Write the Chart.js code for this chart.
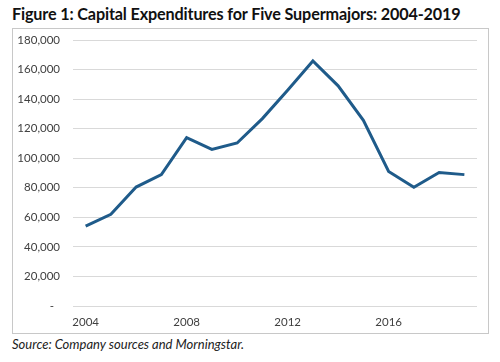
<!DOCTYPE html>
<html>
<head>
<meta charset="utf-8">
<script src="https://cdn.jsdelivr.net/npm/chart.js@4/dist/chart.umd.min.js"></script>
<style>
  html, body { margin: 0; padding: 0; background: #fff; }
  body { width: 500px; height: 362px; position: relative; overflow: hidden; font-family: Lato, "Open Sans", sans-serif; }
  #title { position: absolute; left: 12px; top: 4px; font-size: 16.2px; letter-spacing: -0.15px; font-weight: bold; color: #111; white-space: nowrap; }
  #chart-canvas { position: absolute; left: 12px; top: 28px; display: block; }
  #source { position: absolute; left: 12px; top: 336px; font-size: 13px; font-style: italic; color: #222; white-space: nowrap; }
</style>
</head>
<body>
<div id="title">Figure 1: Capital Expenditures for Five Supermajors: 2004-2019</div>
<canvas id="chart-canvas" width="477" height="306"></canvas>
<div id="source">Source: Company sources and Morningstar.</div>
<script>
// values (millions)
const years = ['2004', '2005', '2006', '2007', '2008', '2009', '2010', '2011',
               '2012', '2013', '2014', '2015', '2016', '2017', '2018', '2019'];
const capex = [54000, 62000, 80500, 89000, 114000, 106000, 110300, 126800,
               146000, 165800, 149000, 125600, 91000, 80300, 90300, 88900];
const yTicks = [0, 20000, 40000, 60000, 80000, 100000, 120000, 140000, 160000, 180000];

// light frame round the whole chart, like the spreadsheet chart box
const frame = {
    id: 'frame',
    beforeDraw(chart) {
        const ctx = chart.ctx;
        ctx.save();
        ctx.strokeStyle = '#c8c8c8';
        ctx.lineWidth = 1;
        ctx.strokeRect(0.5, 0.5, chart.width - 1, chart.height - 1);
        ctx.restore();
    }
};

const canvas = document.getElementById('chart-canvas');
new Chart(canvas, {
    type: 'line',
    data: {
        labels: years,
        datasets: [{
            data: capex,
            borderColor: '#1f5b8a',
            borderWidth: 3,
            pointRadius: 0,
            tension: 0,
            fill: false
        }]
    },
    options: {
        responsive: false,
        animation: false,
        layout: { autoPadding: false, padding: { left: 1, right: 12, top: 12, bottom: 0 } },
        plugins: { legend: { display: false }, tooltip: { enabled: false } },
        scales: {
            x: {
                offset: true,
                grid: { display: false },
                border: { display: false },
                ticks: {
                    autoSkip: false,
                    maxRotation: 0,
                    padding: 1,
                    color: '#404040',
                    font: { family: 'Lato', size: 11.5 },
                    callback: function(v, i) { return i % 4 === 0 ? years[i] : ''; }
                },
                afterFit: function(scale) { scale.height = 28; }
            },
            y: {
                min: 0,
                max: 180000,
                afterBuildTicks: function(scale) { scale.ticks = yTicks.map(v => ({ value: v })); },
                grid: { color: '#d9d9d9', lineWidth: 1, drawTicks: false },
                border: { display: false },
                ticks: {
                    padding: 13,
                    color: '#404040',
                    font: { family: 'Lato', size: 11.5 },
                    callback: function(v) { return v === 0 ? '-  ' : v.toLocaleString('en-US'); }
                },
                afterFit: function(scale) {
                    scale.width = 60;
                    // tick padding would otherwise push the plot top down
                    scale.paddingTop = 0;
                    scale.paddingBottom = 0;
                }
            }
        }
    },
    plugins: [frame]
});
</script>
</body>
</html>
